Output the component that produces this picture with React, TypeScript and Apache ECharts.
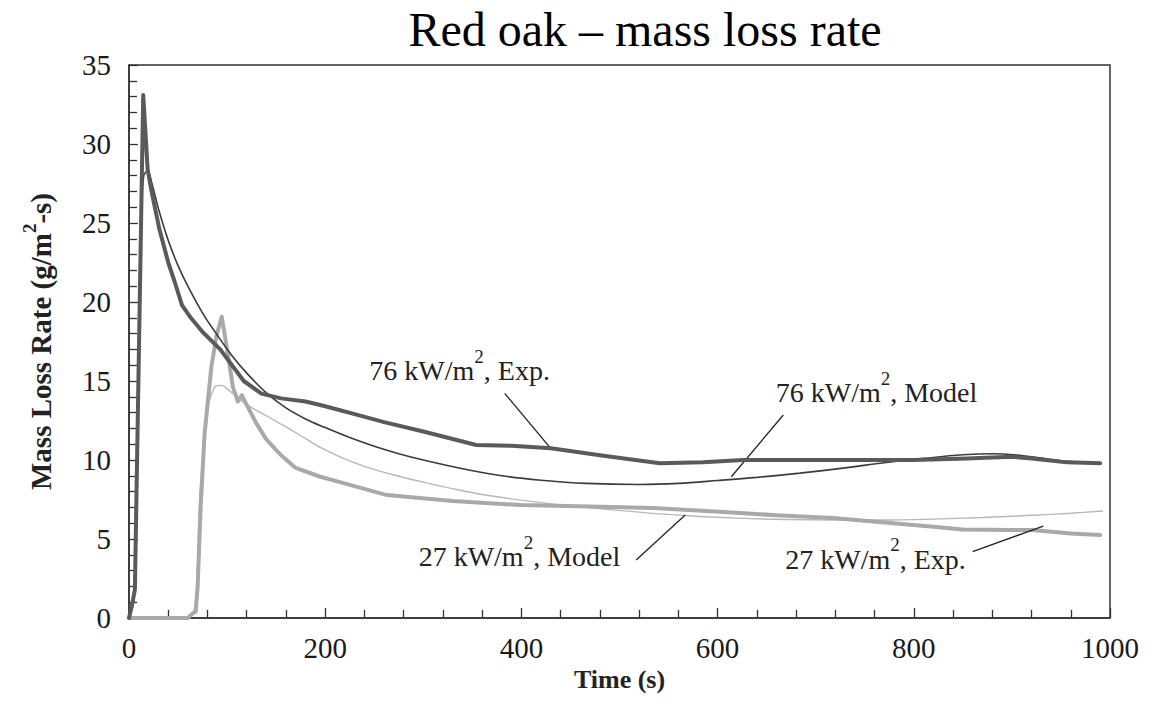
import React, { useEffect, useRef } from "react";
import * as echarts from "echarts";

const TITLE = "Red oak – mass loss rate";
const X_NAME = "Time (s)";
const X_MIN = 0;
const X_MAX = 1000;
const X_STEP = 200;
const Y_MIN = 0;
const Y_MAX = 35;
const Y_STEP = 5;

const SERIES_NAMES = ["76 kW/m², Exp.", "76 kW/m², Model", "27 kW/m², Exp.", "27 kW/m², Model"];

const exp76: [number, number][] = [
  [0, 0], [3, 0.8], [6, 1.8], [14.5, 33.1], [17, 30.5], [19, 28.4], [23, 27], [31, 24.6],
  [40, 22.5], [47, 21.2], [54, 19.8], [63, 19], [75, 18.1], [93, 17], [105, 16.0], [117, 15.0],
  [135, 14.2], [155, 13.9], [180, 13.7], [200, 13.4], [230, 12.9], [260, 12.4], [300, 11.8],
  [354, 10.95], [390, 10.9], [430, 10.75], [480, 10.3], [541, 9.8], [585, 9.85], [626, 10.0],
  [700, 10.0], [750, 10.0], [800, 10.0], [854, 10.1], [900, 10.2], [920, 10.1], [956, 9.85], [990, 9.8],
];

const model76: [number, number][] = [
  [0, 0], [5, 1.2], [8, 10], [12, 25], [15, 28], [19, 28.3], [23, 27.6], [30, 25.9], [40, 23.9],
  [50, 22.3], [60, 21.0], [75, 19.3], [90, 17.9], [105, 16.6], [120, 15.5], [140, 14.25],
  [160, 13.3], [180, 12.6], [200, 12.05], [225, 11.42], [250, 10.87], [275, 10.4], [300, 10.0],
  [340, 9.45], [380, 9.0], [420, 8.72], [466, 8.52], [520, 8.45], [560, 8.52], [600, 8.7],
  [640, 8.9], [684, 9.17], [730, 9.5], [770, 9.83], [810, 10.1], [850, 10.33], [880, 10.4],
  [905, 10.32], [930, 10.12], [960, 9.9], [990, 9.8],
];

const exp27: [number, number][] = [
  [0, 0], [60, 0], [65, 0.3], [68, 0.4], [70, 2], [73, 7], [77, 11.6], [80, 13.5], [84, 15.9],
  [89, 17.8], [94.5, 19.07], [100, 17], [106, 14.6], [111, 13.7], [115, 14.1], [119, 13.6],
  [130, 12.3], [140, 11.3], [155, 10.3], [170, 9.5], [195, 8.94], [215, 8.6], [263, 7.78],
  [330, 7.4], [399, 7.15], [470, 7.05], [534, 6.96], [602, 6.73], [660, 6.5], [718, 6.33],
  [770, 6.05], [820, 5.78], [850, 5.6], [900, 5.57], [921, 5.57], [960, 5.35], [990, 5.25],
];

const model27: [number, number][] = [
  [0, 0], [40, 0], [60, 0.1], [66, 0.4], [69, 2], [72, 7.5], [75, 10], [78, 12], [81, 13.5],
  [85, 14.3], [89, 14.7], [95, 14.72], [100, 14.5], [110, 14.0], [120, 13.5], [140, 12.8],
  [160, 12.1], [180, 11.35], [195, 10.8], [215, 10.2], [240, 9.6], [270, 9.05], [300, 8.6],
  [335, 8.12], [370, 7.72], [420, 7.3], [470, 6.97], [520, 6.7], [570, 6.47], [620, 6.32],
  [670, 6.23], [720, 6.2], [770, 6.2], [820, 6.26], [870, 6.36], [920, 6.5], [960, 6.63], [993, 6.77],
];

// annotation label text pieces: [before superscript, superscript, after]
const ANNOT_TEXT: [string, string, string][] = [
  ["76 kW/m", "2", ", Exp."],
  ["76 kW/m", "2", ", Model"],
  ["27 kW/m", "2", ", Model"],
  ["27 kW/m", "2", ", Exp."],
];
// annotation label centres in data units
const ANNOT_POS: [number, number][] = [
  [337, 15.98],
  [762, 14.56],
  [398, 4.18],
  [761, 4.02],
];
// leader lines in data units
const LEADERS: [[number, number], [number, number]][] = [
  [[383, 14.22], [429, 10.8]],
  [[667, 12.85], [614, 8.94]],
  [[517, 3.67], [567, 6.52]],
  [[860, 4.2], [932, 5.82]],
];

const SERIF = "'Liberation Serif', 'Times New Roman', serif";
const AXIS_COLOR = "#333";

export default function App() {
  const ref = useRef<HTMLDivElement>(null);

  useEffect(() => {
    if (!ref.current) return;
    const chart = echarts.init(ref.current, undefined, { renderer: "svg" });

    const annRich = {
      a: { fontFamily: SERIF, fontSize: 28, color: "#222", verticalAlign: "bottom" },
      s: { fontFamily: SERIF, fontSize: 19, color: "#222", verticalAlign: "bottom", padding: [0, 0, 19, 0] },
    };

    const option: any = {
      animation: false,
      backgroundColor: "#fff",
      title: {
        text: TITLE,
        left: 640,
        textAlign: "center",
        top: 0,
        textStyle: { fontFamily: SERIF, fontSize: 48, fontWeight: "normal", color: "#000" },
      },
      grid: {
        left: 129,
        right: 51,
        top: 65,
        bottom: 87,
        show: true,
        borderColor: AXIS_COLOR,
        borderWidth: 1.5,
        backgroundColor: "transparent",
        containLabel: false,
        outerBoundsMode: "none",
      },
      xAxis: {
        type: "value",
        min: X_MIN,
        max: X_MAX,
        interval: X_STEP,
        name: X_NAME,
        nameLocation: "middle",
        nameGap: 34,
        nameTextStyle: { fontFamily: SERIF, fontSize: 26, fontWeight: "bold", color: "#222" },
        axisLine: { show: true, lineStyle: { color: AXIS_COLOR, width: 1.5 } },
        axisTick: { show: true, inside: true, length: 10, lineStyle: { color: AXIS_COLOR, width: 1.3 } },
        minorTick: { show: true, splitNumber: 5, length: 8, lineStyle: { color: AXIS_COLOR, width: 1.3 } },
        axisLabel: {
          fontFamily: SERIF,
          fontSize: 29,
          color: "#1a1a1a",
          margin: 15,
          formatter: (v: number) => String(v),
        },
        splitLine: { show: false },
      },
      yAxis: {
        type: "value",
        min: Y_MIN,
        max: Y_MAX,
        interval: Y_STEP,
        name: "{b|Mass Loss Rate (g/m}{s|2}{b|-s)}",
        nameLocation: "middle",
        nameRotate: 90,
        nameGap: 74,
        nameTextStyle: {
          rich: {
            b: { fontFamily: SERIF, fontSize: 29, fontWeight: "bold", color: "#222", verticalAlign: "bottom" },
            s: { fontFamily: SERIF, fontSize: 19, fontWeight: "bold", color: "#222", verticalAlign: "bottom", padding: [0, 0, 16, 0] },
          },
        },
        axisLine: { show: true, lineStyle: { color: AXIS_COLOR, width: 1.5 } },
        axisTick: { show: true, inside: true, length: 9, lineStyle: { color: AXIS_COLOR, width: 1.3 } },
        minorTick: { show: true, splitNumber: 5, length: 8, lineStyle: { color: AXIS_COLOR, width: 1.3 } },
        axisLabel: { fontFamily: SERIF, fontSize: 29, color: "#1a1a1a", margin: 18 },
        splitLine: { show: false },
      },
      series: [
        {
          name: SERIES_NAMES[3],
          type: "line",
          data: model27,
          showSymbol: false,
          smooth: 0.35,
          lineStyle: { color: "#b8b8b8", width: 1.4 },
          itemStyle: { color: "#b8b8b8" },
          z: 2,
        },
        {
          name: SERIES_NAMES[2],
          type: "line",
          data: exp27,
          showSymbol: false,
          lineStyle: { color: "#a9a9a9", width: 4, join: "round", cap: "round" },
          itemStyle: { color: "#a9a9a9" },
          z: 3,
        },
        {
          name: SERIES_NAMES[1],
          type: "line",
          data: model76,
          showSymbol: false,
          smooth: 0.35,
          lineStyle: { color: "#3c3c3c", width: 1.6 },
          itemStyle: { color: "#3c3c3c" },
          z: 4,
        },
        {
          name: SERIES_NAMES[0],
          type: "line",
          data: exp76,
          showSymbol: false,
          lineStyle: { color: "#5a5a5a", width: 4, join: "round", cap: "round" },
          itemStyle: { color: "#5a5a5a" },
          z: 5,
          markLine: {
            silent: true,
            symbol: ["none", "none"],
            label: { show: false },
            lineStyle: { color: "#222", width: 1.3, type: "solid" },
            emphasis: { disabled: true },
            data: LEADERS.map(([p, q]) => [{ coord: p }, { coord: q }]),
          },
          markPoint: {
            silent: true,
            symbol: "circle",
            symbolSize: 0,
            itemStyle: { color: "transparent" },
            data: ANNOT_POS.map((p, i) => ({
              coord: p,
              label: {
                show: true,
                position: "inside",
                formatter: `{a|${ANNOT_TEXT[i][0]}}{s|${ANNOT_TEXT[i][1]}}{a|${ANNOT_TEXT[i][2]}}`,
                rich: annRich,
              },
            })),
          },
        },
      ],
    };

    chart.setOption(option);
    return () => chart.dispose();
  }, []);

  return (
    <div
      ref={ref}
      style={{ position: "fixed", left: 0, top: 0, width: 1161, height: 705, background: "#fff" }}
    />
  );
}
